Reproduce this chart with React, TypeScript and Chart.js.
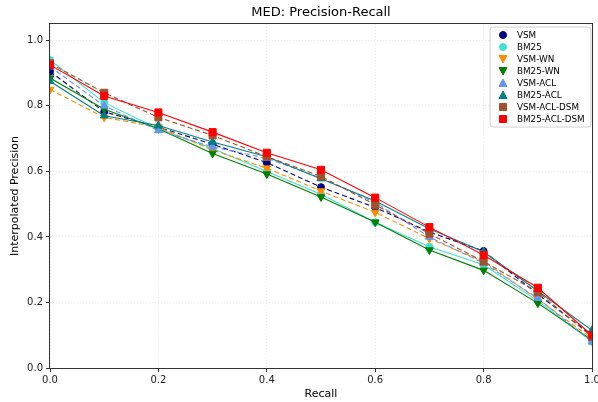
import React, { useEffect, useRef } from "react";
import { Chart, registerables } from "chart.js";

Chart.register(...registerables);

const recall = [0, 0.1, 0.2, 0.3, 0.4, 0.5, 0.6, 0.7, 0.8, 0.9, 1.0];
const yTicks = [0, 0.2, 0.4, 0.6, 0.8, 1.0];

const seriesNames = ["VSM", "BM25", "VSM-WN", "BM25-WN", "VSM-ACL", "BM25-ACL", "VSM-ACL-DSM", "BM25-ACL-DSM"];

const vsm = [0.905, 0.782, 0.735, 0.683, 0.627, 0.552, 0.49, 0.415, 0.357, 0.225, 0.1];
const bm25 = [0.94, 0.81, 0.73, 0.67, 0.6, 0.53, 0.445, 0.37, 0.315, 0.205, 0.08];
const vsmWn = [0.85, 0.765, 0.735, 0.665, 0.61, 0.54, 0.475, 0.395, 0.325, 0.21, 0.09];
const bm25Wn = [0.885, 0.79, 0.73, 0.655, 0.592, 0.522, 0.445, 0.36, 0.298, 0.198, 0.085];
const vsmAcl = [0.92, 0.8, 0.725, 0.675, 0.64, 0.58, 0.505, 0.4, 0.32, 0.213, 0.08];
const bm25Acl = [0.875, 0.77, 0.74, 0.69, 0.645, 0.578, 0.51, 0.425, 0.355, 0.235, 0.115];
const vsmAclDsm = [0.93, 0.84, 0.765, 0.71, 0.645, 0.585, 0.498, 0.41, 0.325, 0.232, 0.095];
const bm25AclDsm = [0.925, 0.83, 0.78, 0.72, 0.657, 0.605, 0.52, 0.43, 0.345, 0.245, 0.1];

const seriesValues = [vsm, bm25, vsmWn, bm25Wn, vsmAcl, bm25Acl, vsmAclDsm, bm25AclDsm];
const colors = ["#000080", "#40e0d0", "#ff8c00", "#008000", "#6495ed", "#008080", "#a0522d", "#ff0000"];
const dashed = [true, false, true, false, true, false, true, false];
const markers = ["circle", "circle", "down", "down", "up", "up", "square", "square"];

const FONT = "'DejaVu Sans', sans-serif";

function drawMarker(ctx: CanvasRenderingContext2D, kind: string, x: number, y: number, color: string) {
  ctx.save();
  ctx.fillStyle = color;
  ctx.strokeStyle = color;
  ctx.lineWidth = 1;
  ctx.beginPath();
  if (kind === "circle") {
    ctx.arc(x, y, 3.5, 0, Math.PI * 2);
  } else if (kind === "square") {
    ctx.rect(x - 3.5, y - 3.5, 7, 7);
  } else if (kind === "up") {
    ctx.moveTo(x, y - 4);
    ctx.lineTo(x + 4, y + 3.5);
    ctx.lineTo(x - 4, y + 3.5);
    ctx.closePath();
  } else {
    ctx.moveTo(x, y + 4);
    ctx.lineTo(x + 4, y - 3.5);
    ctx.lineTo(x - 4, y - 3.5);
    ctx.closePath();
  }
  ctx.fill();
  ctx.stroke();
  ctx.restore();
}

const decorPlugin = {
  id: "decor",
  afterDraw(chart: any) {
    const { ctx, chartArea } = chart;
    const { left, right, top, bottom } = chartArea;
    ctx.save();
    // frame
    ctx.strokeStyle = "#333";
    ctx.lineWidth = 1;
    ctx.strokeRect(Math.round(left) - 0.5, Math.round(top) - 0.5, Math.round(right - left) + 1, Math.round(bottom - top) + 1);
    // title
    ctx.fillStyle = "#000";
    ctx.font = `13px ${FONT}`;
    ctx.textAlign = "center";
    ctx.textBaseline = "middle";
    ctx.fillText("MED: Precision-Recall", (left + right) / 2, 13);
    // legend
    const bx = 490, by = 27, bw = 101, bh = 100;
    ctx.beginPath();
    const r = 3;
    ctx.moveTo(bx + r, by);
    ctx.lineTo(bx + bw - r, by);
    ctx.quadraticCurveTo(bx + bw, by, bx + bw, by + r);
    ctx.lineTo(bx + bw, by + bh - r);
    ctx.quadraticCurveTo(bx + bw, by + bh, bx + bw - r, by + bh);
    ctx.lineTo(bx + r, by + bh);
    ctx.quadraticCurveTo(bx, by + bh, bx, by + bh - r);
    ctx.lineTo(bx, by + r);
    ctx.quadraticCurveTo(bx, by, bx + r, by);
    ctx.closePath();
    ctx.fillStyle = "rgba(255,255,255,0.85)";
    ctx.fill();
    ctx.strokeStyle = "#d0d0d0";
    ctx.stroke();
    ctx.font = `8.8px ${FONT}`;
    ctx.textAlign = "left";
    ctx.fillStyle = "#000";
    seriesNames.forEach((name, i) => {
      const yy = 35 + i * 12;
      drawMarker(ctx, markers[i], 503, yy, colors[i]);
      ctx.fillStyle = "#000";
      ctx.fillText(name, 517, yy + 0.5);
    });
    ctx.restore();
  },
};

export default function App() {
  const ref = useRef<HTMLCanvasElement>(null);
  useEffect(() => {
    if (!ref.current) return;
    const datasets = seriesNames.map((name, i) => {
      const kind = markers[i];
      const pointStyle = kind === "circle" ? "circle" : kind === "square" ? "rect" : "triangle";
      const radius = kind === "circle" ? 3.5 : kind === "square" ? 5 : 4.5;
      return {
        label: name,
        data: recall.map((x, j) => ({ x, y: seriesValues[i][j] })),
        borderColor: colors[i],
        backgroundColor: colors[i],
        pointBackgroundColor: colors[i],
        pointBorderColor: colors[i],
        pointBorderWidth: 1,
        pointStyle,
        pointRotation: kind === "down" ? 180 : 0,
        pointRadius: radius,
        borderWidth: 1.1,
        borderDash: dashed[i] ? [5, 3] : [],
        tension: 0,
        fill: false,
        clip: 0,
        order: seriesNames.length - i,
      };
    });
    const gridOpts = { color: "rgba(0,0,0,0.07)", tickColor: "#333", tickLength: 4, tickBorderDash: [1, 0] };
    const chart = new Chart(ref.current, {
      type: "line",
      data: { datasets },
      options: {
        animation: false,
        responsive: false,
        devicePixelRatio: 1,
        layout: { padding: { left: 0, top: 24, right: 5, bottom: 0 } },
        plugins: { legend: { display: false }, tooltip: { enabled: false }, title: { display: false } },
        scales: {
          x: {
            type: "linear",
            min: 0,
            max: 1,
            ticks: {
              stepSize: 0.2,
              color: "#222",
              font: { family: FONT, size: 10 },
              padding: 2,
              maxRotation: 0,
              callback: (v: any) => Number(v).toFixed(1),
            },
            grid: gridOpts,
            border: { display: false, dash: [1, 2] },
            title: { display: true, text: "Recall", color: "#000", font: { family: FONT, size: 11 }, padding: { top: 0, bottom: 1 } },
            afterFit: (s: any) => {
              s.height = 34;
              s.paddingRight = 0;
              s.paddingLeft = 0;
            },
          },
          y: {
            type: "linear",
            min: 0,
            max: 1.05,
            afterBuildTicks: (s: any) => {
              s.ticks = yTicks.map((v) => ({ value: v }));
            },
            ticks: {
              color: "#222",
              font: { family: FONT, size: 10 },
              padding: 3,
              callback: (v: any) => Number(v).toFixed(1),
            },
            grid: gridOpts,
            border: { display: false, dash: [1, 2] },
            title: { display: true, text: "Interpolated Precision", color: "#000", font: { family: FONT, size: 11 }, padding: { top: 9, bottom: 0 } },
            afterFit: (s: any) => {
              s.width = 50;
              s.paddingTop = 0;
              s.paddingBottom = 0;
            },
          },
        },
      },
      plugins: [decorPlugin],
    } as any);
    return () => chart.destroy();
  }, []);
  return (
    <div style={{ position: "fixed", left: 0, top: 0, width: 598, height: 402, background: "#fff" }}>
      <canvas ref={ref} width={598} height={402} />
    </div>
  );
}
